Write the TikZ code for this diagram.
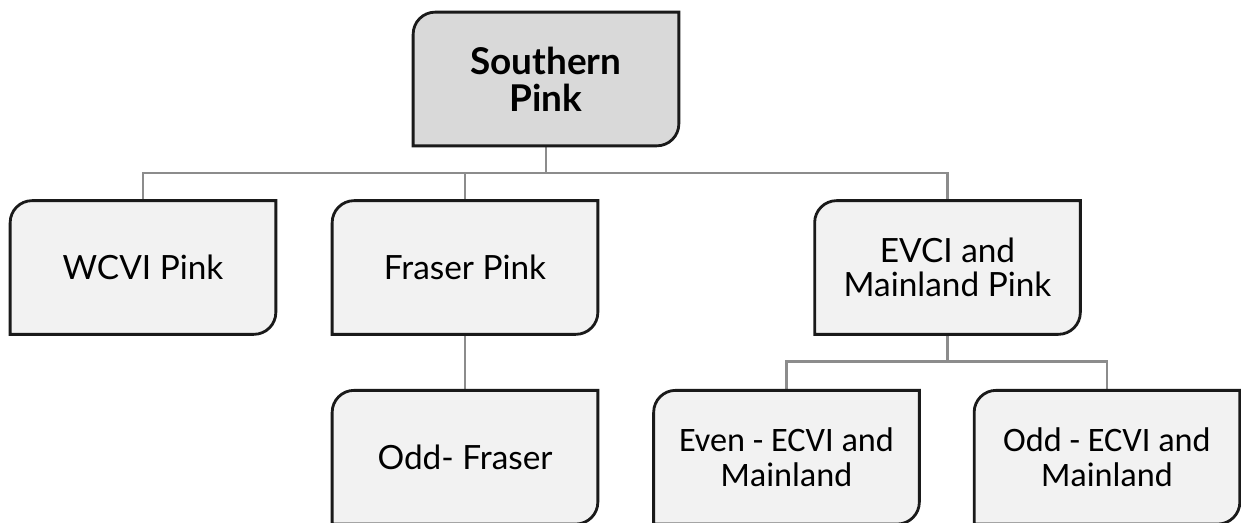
\documentclass[tikz,border=0pt]{standalone}
\usepackage{fontspec}
\setmainfont{Lato}
\newfontfamily\calibri{Carlito}
\usepackage{tikz}
\usetikzlibrary{positioning, backgrounds}
\definecolor{rootfill}{HTML}{D9D9D9}
\definecolor{leaffill}{HTML}{F2F2F2}
\definecolor{edge}{HTML}{1A1A1A}
\definecolor{wire}{HTML}{8C8C8C}
\tikzset{
  stock/.style={rectangle, minimum width=5.3cm, minimum height=2.66cm, align=center, font=\fontsize{19}{19}\selectfont, inner sep=2pt},
  root/.style={stock, font=\fontsize{21}{21}\selectfont\bfseries},
  run/.style={stock, font=\calibri\fontsize{19.5}{20}\selectfont},
  outline/.style={draw=edge, line width=1.6pt},
  link/.style={draw=wire, line width=1.5pt},
}
% box with rounded top-left and bottom-right corners
\newcommand{\tabbox}[2]{%
  \filldraw[outline, fill=#2] (#1.south west) -- ([yshift=-0.44cm]#1.north west)
    arc[start angle=180, end angle=90, radius=0.44cm] -- (#1.north east)
    -- ([yshift=0.44cm]#1.south east)
    arc[start angle=0, end angle=-90, radius=0.44cm] -- cycle;}

\begin{document}
\begin{tikzpicture}
  \useasboundingbox (0,0) rectangle (24.82,-10.46);
  % nodes
  \node[root] (sp) at (10.92,-1.58) {Southern\\Pink};
  \node[stock] (wcvi) at (2.86,-5.35) {WCVI Pink};
  \node[stock] (fraser) at (9.30,-5.35) {Fraser Pink};
  \node[stock] (evci) at (18.95,-5.35) {EVCI and\\Mainland Pink};
  \node[stock, below=1.12cm of fraser] (oddfr) {Odd- Fraser};
  \node[run, below=1.12cm of evci, xshift=-3.22cm] (even) {Even - ECVI and\\Mainland};
  \node[run, below=1.12cm of evci, xshift=3.19cm] (odd) {Odd - ECVI and\\Mainland};
  % connectors and boxes behind the texts
  \begin{scope}[on background layer]
    \coordinate[below=0.54cm of sp.south] (bus);
    \coordinate[below=0.54cm of evci.south] (subbus);
    \draw[link] (sp.south) -- (bus) -| (wcvi.north);
    \draw[link] (bus) -| (fraser.north);
    \draw[link] (bus) -| (evci.north);
    \draw[link] (fraser.south) -- (oddfr.north);
    \draw[link] (evci.south) -- (subbus) -| (even.north);
    \draw[link] (subbus) -| (odd.north);
    \tabbox{sp}{rootfill}
    \foreach \n in {wcvi, fraser, evci, oddfr, even, odd} {\tabbox{\n}{leaffill}}
  \end{scope}
\end{tikzpicture}
\end{document}
